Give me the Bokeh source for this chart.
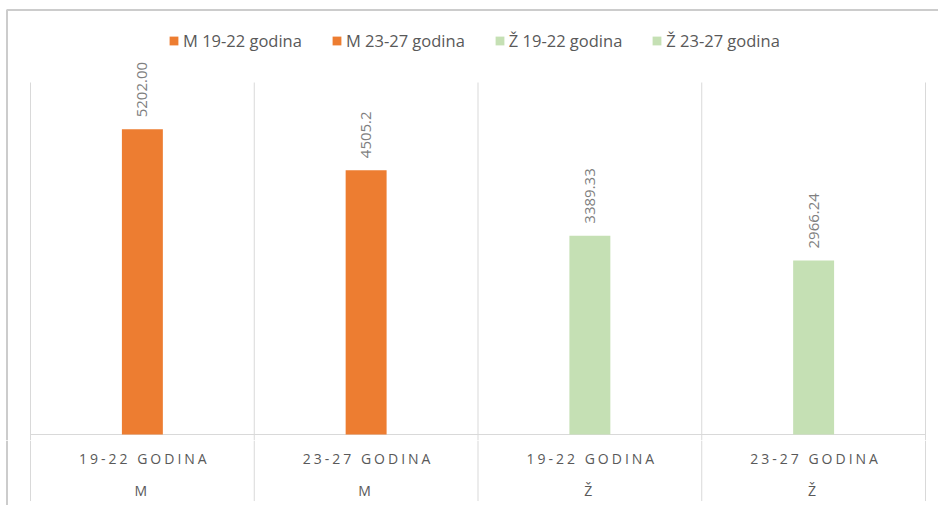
import math
from bokeh.plotting import figure
from bokeh.models import ColumnDataSource, Range1d
from bokeh.layouts import column
from bokeh.core.properties import value
from bokeh.embed import file_html
from bokeh.resources import INLINE

# ---- data ----
sexes = ["M", "M", "Ž", "Ž"]
age_groups = ["19-22 godina", "23-27 godina", "19-22 godina", "23-27 godina"]
series = ["M 19-22 godina", "M 23-27 godina", "Ž 19-22 godina", "Ž 23-27 godina"]
values = [5202.00, 4505.2, 3389.33, 2966.24]
value_labels = ["5202.00", "4505.2", "3389.33", "2966.24"]
colors = ["#ED7D31", "#ED7D31", "#C5E0B4", "#C5E0B4"]
y_axis_max = 6000

# ---- geometry (page pixels) ----
W = 938
H_TOP = 440
H_BOT = 65
PX_PER_CAT = 223.75
X_START = -30 / PX_PER_CAT
X_END = len(values) + 13 / PX_PER_CAT
PX_PER_UNIT = 352 / y_axis_max
Y_TOP = 434 / PX_PER_UNIT
Y_BOT = -6 / PX_PER_UNIT
BORDER_X = X_START + 6.5 / PX_PER_CAT
BORDER_Y = Y_TOP - 9.5 / PX_PER_UNIT

GRID = "#d9d9d9"
BORDER = "#cccccc"
TEXT = "#595959"
FONT = value("Open Sans")

n = len(values)
centers = [i + 0.5 for i in range(n)]
bounds = list(range(n + 1))

src = ColumnDataSource(dict(
    x=centers, top=values, color=colors, series=series, label=value_labels,
    age=[a.upper() for a in age_groups], sex=sexes,
))

x_range = Range1d(X_START, X_END)

# ---- top figure: bars, legend, value labels ----
p = figure(width=W, height=H_TOP, x_range=x_range, y_range=Range1d(Y_BOT, Y_TOP),
           output_backend="svg", toolbar_location=None,
           x_axis_location=None, y_axis_location=None, min_border=0)
p.grid.visible = False
p.outline_line_color = None
p.background_fill_color = "white"
p.border_fill_color = "white"

# chart border (top and left)
p.line(x=[X_END, BORDER_X, BORDER_X], y=[BORDER_Y, BORDER_Y, Y_BOT],
       line_color=BORDER, line_width=2)

# vertical gridlines
p.segment(x0=bounds, y0=[y_axis_max] * len(bounds), x1=bounds, y1=[Y_BOT] * len(bounds),
          line_color=GRID, line_width=1)
# baseline
p.segment(x0=[bounds[0]], y0=[0], x1=[bounds[-1]], y1=[0], line_color=GRID, line_width=1)

p.vbar(x="x", top="top", bottom=0, width=0.183, source=src,
       fill_color="color", line_color=None, legend_field="series")

p.text(x="x", y="top", text="label", source=src, angle=math.pi / 2,
       text_align="left", text_baseline="middle", y_offset=-12,
       text_font=FONT, text_font_size="15px", text_color="#7f7f7f")

lg = p.legend[0]
lg.orientation = "horizontal"
lg.location = (168, 388)
lg.background_fill_alpha = 0
lg.border_line_color = None
lg.padding = 0
lg.margin = 0
lg.spacing = 29
lg.glyph_width = 11
lg.glyph_height = 11
lg.label_standoff = 4
lg.label_text_font = "Open Sans"
lg.label_text_font_size = "16.5px"
lg.label_text_color = TEXT

# ---- bottom figure: multi-level category labels ----
ROW1_TOP = 0.4375
ROW2_BOTTOM = 2.469
q = figure(width=W, height=H_BOT, x_range=x_range, y_range=Range1d(ROW2_BOTTOM, ROW1_TOP),
           output_backend="svg", toolbar_location=None,
           x_axis_location=None, y_axis_location=None, min_border=0,
           styles={"letter-spacing": "3px"})
q.grid.visible = False
q.outline_line_color = None
q.background_fill_color = "white"
q.border_fill_color = "white"
q.line(x=[BORDER_X, BORDER_X], y=[ROW1_TOP, ROW2_BOTTOM], line_color=BORDER, line_width=2)
q.segment(x0=bounds, y0=[ROW1_TOP] * len(bounds), x1=bounds, y1=[2.33] * len(bounds),
          line_color=GRID, line_width=1)
q.text(x="x", y=1, text="age", source=src, text_align="center", text_baseline="middle",
       x_offset=-16, text_font=FONT, text_font_size="14px", text_color=TEXT)
q.text(x="x", y=2, text="sex", source=src, text_align="center", text_baseline="middle",
       x_offset=-1.5, text_font=FONT, text_font_size="14px", text_color=TEXT)

layout = column(p, q, spacing=0)
open("out.html", "w").write(file_html(layout, INLINE))
